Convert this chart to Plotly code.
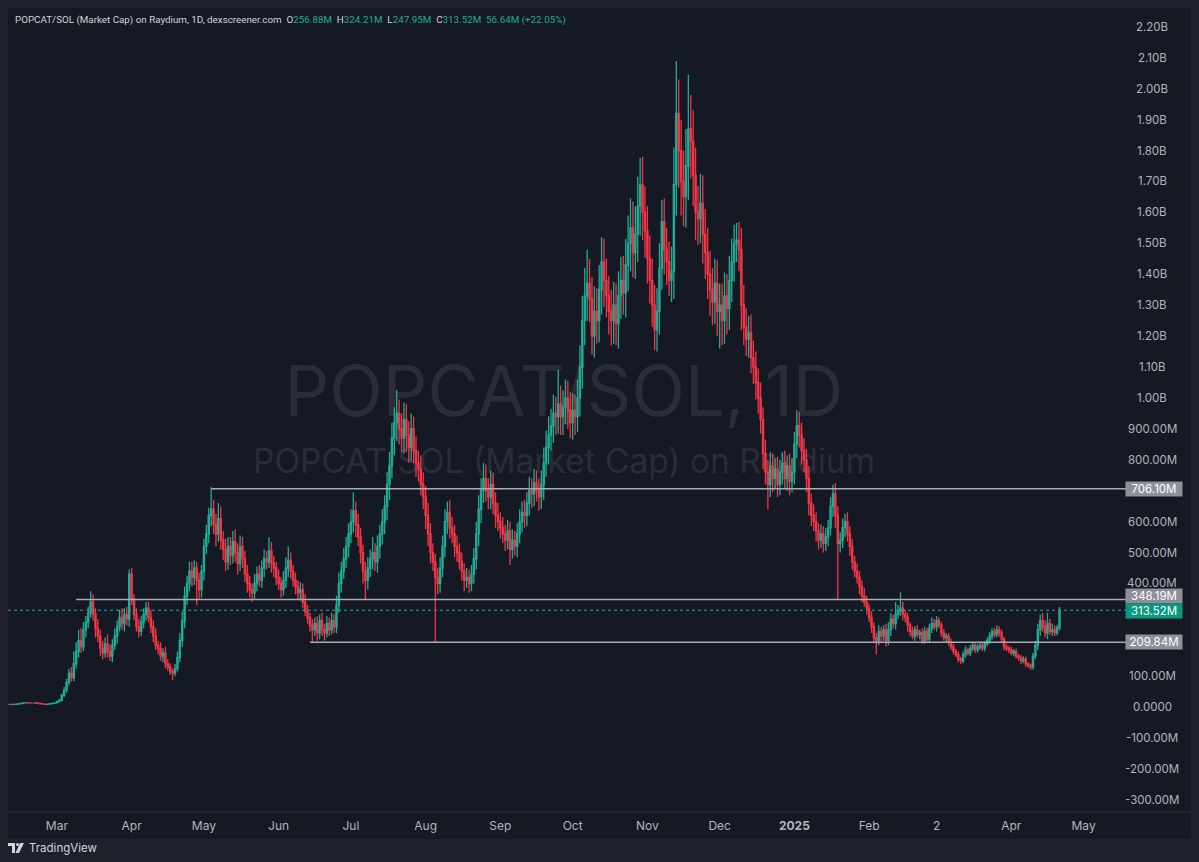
import pandas as pd
import plotly.graph_objects as go

# ---------------- data (values in millions USD) ----------------
start_date = "2024-02-10"
first_open = 9

close = [
    9, 8, 9, 10, 11, 12, 14, 15, 14, 13,
    13, 14, 12, 11, 10, 9, 10, 11, 12, 14,
    18, 22, 38, 55, 80, 110, 95, 140, 180, 215,
    195, 250, 275, 305, 340, 300, 255, 230, 190, 175,
    205, 180, 165, 200, 230, 260, 290, 270, 300, 285,
    430, 350, 300, 260, 245, 275, 300, 320, 290, 260,
    230, 200, 190, 165, 175, 140, 130, 115, 110, 125,
    160, 215, 280, 360, 400, 440, 420, 450, 410, 380,
    440, 520, 560, 620, 640, 590, 560, 610, 540, 510,
    470, 520, 490, 535, 500, 465, 520, 480, 430, 400,
    380, 370, 400, 430, 410, 450, 480, 470, 505, 465,
    450, 420, 400, 380, 410, 450, 475, 440, 410, 390,
    370, 380, 340, 310, 290, 265, 250, 270, 240, 280,
    250, 240, 270, 250, 280, 260, 330, 400, 440, 480,
    520, 560, 600, 635, 590, 550, 500, 440, 410, 450,
    480, 500, 470, 520, 560, 600, 650, 720, 780, 870,
    920, 950, 900, 870, 930, 880, 840, 900, 830, 790,
    770, 720, 680, 620, 560, 500, 470, 420, 400, 450,
    520, 600, 630, 580, 560, 520, 500, 470, 440, 410,
    420, 400, 430, 480, 560, 640, 700, 740, 700, 680,
    720, 660, 620, 600, 580, 560, 540, 570, 510, 540,
    520, 560, 600, 630, 620, 660, 700, 690, 725, 700,
    680, 720, 790, 840, 880, 910, 950, 940, 980, 940,
    970, 1000, 960, 920, 960, 940, 1000, 1100, 1250, 1330,
    1370, 1320, 1200, 1280, 1250, 1350, 1440, 1380, 1330, 1280,
    1250, 1300, 1240, 1330, 1380, 1340, 1430, 1500, 1550, 1470,
    1530, 1620, 1690, 1600, 1540, 1450, 1380, 1300, 1220, 1280,
    1420, 1570, 1480, 1440, 1380, 1410, 1690, 1920, 1800, 1700,
    1650, 1750, 1870, 1830, 1720, 1600, 1580, 1630, 1530, 1470,
    1400, 1350, 1310, 1370, 1280, 1300, 1250, 1330, 1290, 1380,
    1440, 1500, 1510, 1480, 1300, 1230, 1190, 1210, 1130, 1100,
    1050, 1000, 930, 820, 760, 720, 780, 740, 770, 720,
    760, 790, 740, 780, 730, 760, 850, 910, 880, 830,
    800, 740, 660, 620, 600, 570, 540, 560, 530, 550,
    580, 650, 690, 620, 530, 540, 580, 600, 560, 520,
    470, 440, 420, 390, 360, 340, 320, 290, 260, 225,
    215, 245, 230, 250, 215, 250, 285, 270, 300, 310,
    320, 300, 290, 265, 245, 230, 250, 235, 240, 215,
    245, 220, 255, 270, 260, 280, 265, 240, 225, 230,
    210, 195, 180, 170, 155, 150, 170, 185, 175, 190,
    200, 185, 195, 200, 190, 205, 215, 230, 245, 235,
    250, 240, 220, 195, 190, 185, 175, 180, 165, 160,
    150, 155, 140, 135, 130, 165, 200, 250, 280, 260,
    240, 270, 245, 250, 240, 256.88, 313.52,
]

up_wick = [
    1, 2, 1, 1, 2, 2, 2, 1, 1, 1,
    1, 1, 1, 1, 1, 1, 1, 1, 2, 2,
    3, 5, 6, 10, 12, 15, 20, 40, 30, 35,
    40, 25, 20, 20, 35, 25, 20, 30, 20, 25,
    20, 30, 25, 20, 25, 20, 25, 30, 20, 25,
    15, 20, 15, 20, 25, 20, 20, 20, 20, 25,
    20, 25, 15, 20, 15, 20, 15, 12, 10, 15,
    20, 25, 30, 30, 25, 30, 30, 25, 20, 25,
    20, 25, 30, 25, 72, 30, 35, 50, 40, 30,
    35, 30, 30, 35, 40, 30, 35, 30, 25, 30,
    25, 20, 30, 25, 30, 25, 30, 25, 45, 30,
    25, 20, 25, 20, 30, 35, 45, 25, 20, 25,
    20, 25, 20, 25, 20, 15, 20, 20, 25, 20,
    25, 20, 25, 20, 25, 20, 30, 35, 30, 35,
    30, 35, 40, 60, 30, 35, 30, 25, 30, 35,
    30, 50, 30, 35, 30, 40, 35, 40, 45, 50,
    50, 76, 45, 50, 55, 50, 45, 50, 40, 45,
    40, 45, 40, 35, 40, 35, 30, 25, 30, 35,
    35, 40, 35, 40, 35, 30, 35, 30, 30, 25,
    30, 25, 30, 35, 40, 45, 40, 50, 45, 40,
    45, 40, 35, 40, 30, 35, 30, 35, 30, 35,
    30, 35, 40, 35, 40, 35, 45, 40, 45, 40,
    40, 45, 50, 55, 60, 55, 60, 55, 110, 60,
    55, 60, 55, 60, 55, 50, 60, 70, 80, 90,
    110, 80, 70, 80, 75, 80, 80, 75, 70, 65,
    70, 75, 70, 80, 75, 80, 85, 90, 95, 85,
    90, 95, 86, 90, 85, 80, 75, 70, 65, 75,
    80, 70, 75, 70, 65, 80, 120, 170, 110, 100,
    100, 120, 175, 110, 100, 90, 85, 95, 90, 80,
    80, 75, 70, 80, 75, 70, 70, 75, 70, 80,
    75, 60, 56, 60, 70, 65, 60, 55, 60, 55,
    50, 45, 50, 40, 45, 40, 45, 40, 35, 40,
    40, 35, 40, 35, 40, 45, 40, 50, 45, 40,
    40, 35, 40, 30, 35, 30, 25, 30, 25, 30,
    25, 30, 30, 35, 30, 25, 30, 25, 30, 25,
    25, 20, 25, 20, 20, 25, 20, 15, 20, 15,
    15, 20, 15, 15, 20, 25, 20, 15, 40, 20,
    52, 20, 15, 15, 10, 15, 12, 15, 10, 15,
    15, 12, 15, 20, 15, 15, 12, 10, 12, 10,
    10, 12, 10, 8, 10, 8, 10, 12, 8, 10,
    10, 8, 10, 8, 10, 8, 10, 12, 10, 12,
    15, 12, 10, 8, 10, 8, 10, 8, 10, 8,
    8, 10, 8, 6, 6, 10, 15, 20, 20, 25,
    20, 35, 15, 20, 15, 10, 10.69,
]

down_wick = [
    1, 1, 1, 1, 1, 1, 1, 2, 1, 1,
    1, 1, 1, 1, 1, 1, 1, 1, 1, 1,
    2, 3, 4, 6, 8, 10, 12, 10, 15, 20,
    20, 15, 25, 20, 15, 20, 30, 20, 25, 20,
    15, 20, 15, 20, 15, 25, 15, 20, 25, 20,
    25, 20, 20, 15, 20, 15, 20, 20, 15, 20,
    20, 15, 20, 15, 20, 15, 12, 10, 23, 10,
    10, 15, 20, 25, 30, 25, 30, 25, 80, 30,
    25, 30, 25, 30, 35, 30, 40, 25, 30, 35,
    30, 25, 30, 25, 30, 35, 25, 30, 25, 30,
    25, 30, 20, 25, 20, 25, 30, 25, 20, 30,
    30, 25, 20, 25, 20, 25, 30, 25, 20, 25,
    20, 25, 20, 15, 20, 20, 40, 20, 25, 20,
    20, 25, 15, 20, 15, 20, 20, 25, 30, 25,
    30, 35, 30, 35, 40, 30, 35, 40, 60, 30,
    30, 35, 30, 35, 40, 35, 40, 45, 50, 40,
    55, 60, 50, 45, 50, 55, 50, 45, 40, 45,
    40, 35, 40, 45, 40, 35, 30, 213, 35, 30,
    30, 35, 40, 35, 30, 35, 30, 25, 30, 35,
    25, 30, 25, 30, 35, 40, 45, 40, 35, 40,
    40, 35, 40, 30, 35, 30, 35, 30, 50, 30,
    30, 35, 30, 35, 40, 35, 40, 45, 40, 35,
    45, 40, 50, 45, 55, 50, 55, 60, 55, 60,
    60, 55, 60, 50, 55, 60, 50, 60, 70, 80,
    80, 75, 60, 70, 75, 70, 80, 85, 70, 75,
    80, 75, 70, 80, 75, 70, 80, 85, 90, 80,
    85, 90, 95, 90, 85, 80, 75, 70, 65, 70,
    75, 70, 80, 75, 50, 70, 90, 100, 120, 110,
    95, 100, 110, 120, 100, 90, 85, 80, 95, 85,
    80, 85, 75, 70, 80, 120, 80, 75, 85, 70,
    70, 65, 60, 70, 80, 60, 55, 60, 50, 55,
    55, 50, 45, 50, 40, 80, 40, 45, 35, 40,
    35, 40, 35, 40, 45, 35, 40, 45, 40, 45,
    40, 45, 40, 35, 30, 35, 30, 25, 30, 25,
    30, 25, 35, 40, 180, 30, 25, 30, 25, 30,
    25, 20, 20, 25, 20, 15, 20, 15, 20, 15,
    45, 15, 20, 15, 20, 15, 20, 15, 20, 15,
    15, 20, 15, 20, 15, 10, 15, 10, 15, 10,
    10, 12, 10, 15, 10, 15, 10, 12, 10, 15,
    12, 10, 10, 8, 10, 10, 8, 10, 8, 10,
    8, 10, 8, 10, 8, 10, 8, 10, 12, 10,
    10, 12, 10, 12, 8, 10, 8, 10, 8, 10,
    10, 8, 10, 8, 10, 8, 10, 15, 20, 15,
    15, 20, 12, 15, 10, 8, 8.93,
]

month_ticks = ["2024-03-01", "2024-04-01", "2024-05-01", "2024-06-01", "2024-07-01",
               "2024-08-01", "2024-09-01", "2024-10-01", "2024-11-01", "2024-12-01",
               "2025-01-01", "2025-02-01", "2025-03-01", "2025-04-01", "2025-05-01"]
month_labels = ["Mar", "Apr", "May", "Jun", "Jul", "Aug", "Sep", "Oct", "Nov", "Dec",
                "<b>2025</b>", "Feb", "2", "Apr", "May"]

price_ticks = [-300, -200, -100, 0, 100, 400, 500, 600, 800, 900, 1000, 1100, 1200,
               1300, 1400, 1500, 1600, 1700, 1800, 1900, 2000, 2100, 2200]

level_values = [706.10, 348.19, 209.84]
level_starts = ["2024-05-04", "2024-03-09", "2024-06-14"]
level_label_shift = [0, 4, 0]

# ---------------- styling ----------------
UP = "#22ab94"
DN = "#f23645"
BG = "#151924"
FRAME = "#1e212b"
TXT = "#b2b5be"
LEVEL = "#a9acb5"
FONT = "Inter, Roboto, sans-serif"

W, H = 1199, 862
ML, MR, MT, MB = 8, 79, 8, 50
PW = W - ML - MR
PH = H - MT - MB


def px_x(p):
    return (p - ML) / PW


def px_y(p):
    return 1 - (p - MT) / PH


dates = pd.date_range(start_date, periods=len(close), freq="D")
opens = [first_open] + close[:-1]
highs = [max(o, c) + u for o, c, u in zip(opens, close, up_wick)]
lows = [min(o, c) - d for o, c, d in zip(opens, close, down_wick)]

t0 = pd.Timestamp(start_date)
x_range = [t0 - pd.Timedelta(hours=7), t0 + pd.Timedelta(hours=24 * 461.1)]
y_range = [-339, 2261]

fig = go.Figure()
fig.add_trace(go.Candlestick(
    x=dates, open=opens, high=highs, low=lows, close=close,
    increasing=dict(line=dict(color=UP, width=1.3), fillcolor=UP),
    decreasing=dict(line=dict(color=DN, width=1.3), fillcolor=DN),
    whiskerwidth=0, hoverinfo="skip", showlegend=False,
))

shapes = []
shapes.append(dict(type="rect", xref="paper", yref="paper", x0=0, x1=px_x(1191),
                   y0=px_y(839), y1=1, fillcolor=BG, line=dict(width=0), layer="below"))
shapes.append(dict(type="line", xref="paper", yref="paper", x0=0, x1=px_x(1191),
                   y0=0, y1=0, line=dict(color="#2a2e39", width=1), layer="below"))
shapes.append(dict(type="rect", xref="paper", yref="paper", x0=0.1, x1=0.9,
                   y0=px_y(388) - 0.04, y1=px_y(388) + 0.04, line=dict(width=0),
                   fillcolor="rgba(0,0,0,0)", layer="below",
                   label=dict(text="POPCAT/SOL, 1D", textposition="middle center",
                              font=dict(size=70, color="#292d38", family=FONT))))
shapes.append(dict(type="rect", xref="paper", yref="paper", x0=0.1, x1=0.9,
                   y0=px_y(459) - 0.03, y1=px_y(459) + 0.03, line=dict(width=0),
                   fillcolor="rgba(0,0,0,0)", layer="below",
                   label=dict(text="POPCAT/SOL (Market Cap) on Raydium",
                              textposition="middle center",
                              font=dict(size=33.5, color="#292d38", family=FONT))))
for v, s in zip(level_values, level_starts):
    shapes.append(dict(type="line", xref="x", yref="y", x0=s, x1=x_range[1], y0=v, y1=v,
                       line=dict(color=LEVEL, width=1.5), layer="above"))
    shapes.append(dict(type="line", xref="paper", yref="y", x0=1, x1=px_x(1127), y0=v, y1=v,
                       line=dict(color=LEVEL, width=1.5), layer="above"))
shapes.append(dict(type="line", xref="paper", yref="y", x0=0, x1=px_x(1127),
                   y0=close[-1], y1=close[-1], line=dict(color=UP, width=1, dash="dot"),
                   layer="above"))
# TradingView logo glyph
shapes.append(dict(type="rect", xref="paper", yref="paper", x0=px_x(8), x1=px_x(15),
                   y0=px_y(846), y1=px_y(843), fillcolor="#d1d4dc", line=dict(width=0)))
shapes.append(dict(type="rect", xref="paper", yref="paper", x0=px_x(12), x1=px_x(15),
                   y0=px_y(853), y1=px_y(843), fillcolor="#d1d4dc", line=dict(width=0)))
shapes.append(dict(type="circle", xref="paper", yref="paper", x0=px_x(16), x1=px_x(19),
                   y0=px_y(846), y1=px_y(843), fillcolor="#d1d4dc", line=dict(width=0)))
shapes.append(dict(type="path", xref="paper", yref="paper",
                   path=f"M {px_x(20)} {px_y(843)} L {px_x(24)} {px_y(843)} "
                        f"L {px_x(19)} {px_y(853)} L {px_x(15.5)} {px_y(853)} Z",
                   fillcolor="#d1d4dc", line=dict(width=0)))

annotations = []


def fmt(v):
    if v == 0:
        return "0.0000"
    if abs(v) >= 1000:
        return f"{v / 1000:.2f}B"
    return f"{v:.2f}M"


for v in price_ticks:
    annotations.append(dict(x=px_x(1152), y=v, xref="paper", yref="y", text=fmt(v),
                            showarrow=False, xanchor="center", yanchor="middle",
                            font=dict(size=11.5, color=TXT, family=FONT)))

for v, sh in zip(level_values, level_label_shift):
    annotations.append(dict(x=px_x(1154), y=v, xref="paper", yref="y", text=fmt(v),
                            showarrow=False, xanchor="center", yanchor="middle",
                            width=56, height=14, bgcolor="#8d9099", borderpad=0,
                            yshift=sh,
                            font=dict(size=11.5, color="#ffffff", family=FONT)))
annotations.append(dict(x=px_x(1154), y=close[-1], xref="paper", yref="y",
                        text=fmt(close[-1]), showarrow=False, xanchor="center",
                        yanchor="middle", width=56, height=14, bgcolor="#089981",
                        borderpad=0, yshift=-1,
                        font=dict(size=11.5, color="#ffffff", family=FONT)))

o, h, l, c = opens[-1], highs[-1], lows[-1], close[-1]
chg = c - o
pct = chg / o * 100
G = "#22ab94"
sp = "&nbsp;&nbsp;"
header = (f"POPCAT/SOL (Market Cap) on Raydium, 1D, dexscreener.com{sp}"
          f"O<span style='color:{G}'>{o:.2f}M</span>{sp}"
          f"H<span style='color:{G}'>{h:.2f}M</span>{sp}"
          f"L<span style='color:{G}'>{l:.2f}M</span>{sp}"
          f"C<span style='color:{G}'>{c:.2f}M</span>{sp}"
          f"<span style='color:{G}'>{chg:.2f}M (+{pct:.2f}%)</span>")
annotations.append(dict(x=px_x(13), y=px_y(20), xref="paper", yref="paper", text=header,
                        showarrow=False, xanchor="left", yanchor="middle",
                        font=dict(size=9.8, color="#d1d4dc", family="Roboto, sans-serif")))
annotations.append(dict(x=px_x(27), y=px_y(848), xref="paper", yref="paper",
                        text="TradingView", showarrow=False, xanchor="left",
                        yanchor="middle", font=dict(size=11.5, color="#d1d4dc", family=FONT)))

fig.update_layout(
    width=W, height=H, autosize=False,
    margin=dict(l=ML, r=MR, t=MT, b=MB),
    paper_bgcolor=FRAME, plot_bgcolor=BG,
    shapes=shapes, annotations=annotations,
    showlegend=False,
    xaxis=dict(type="date", range=x_range, rangeslider=dict(visible=False),
               tickvals=month_ticks, ticktext=month_labels, showgrid=False,
               zeroline=False, showline=False, ticks="outside", ticklen=3,
               tickcolor=BG, tickfont=dict(size=12, color=TXT, family=FONT)),
    yaxis=dict(range=y_range, showgrid=False, zeroline=False, showticklabels=False,
               showline=False, fixedrange=True),
)

fig.write_html("out.html",
               config={"displayModeBar": False},
               post_script="document.body.style.margin='0';"
                           "document.body.style.background='#1e212b';")
